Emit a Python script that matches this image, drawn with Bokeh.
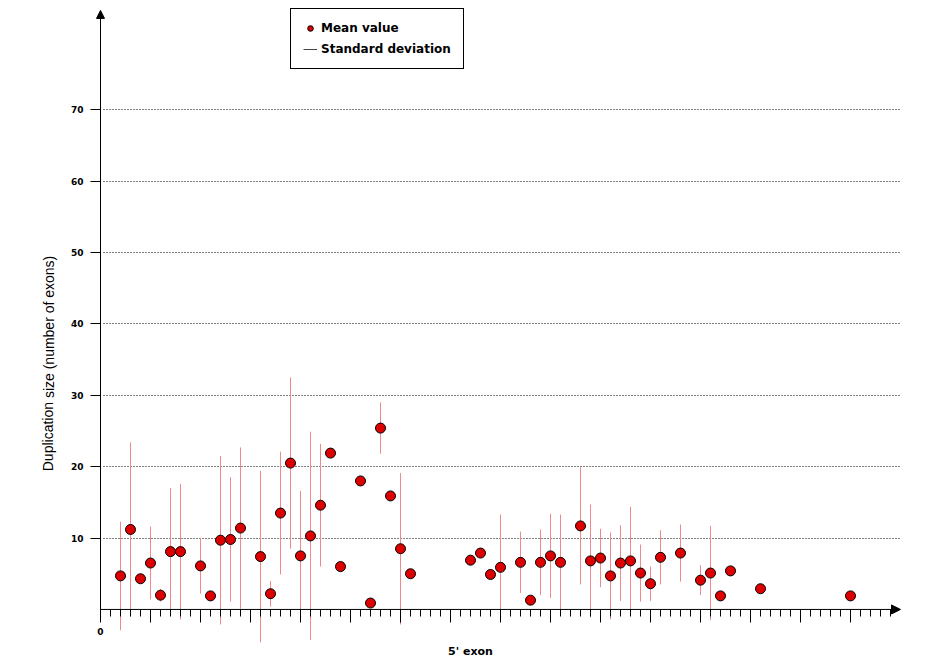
import pandas as pd
from bokeh.plotting import figure
from bokeh.models import (ColumnDataSource, Range1d, FixedTicker, Arrow, NormalHead,
                          Legend, LegendItem)
from bokeh.core.properties import value
from bokeh.embed import file_html
from bokeh.resources import INLINE

# ---- data ----
exon = [2, 3, 4, 5, 6, 7, 8, 10, 11, 12, 13, 14, 16, 17, 18, 19, 20, 21, 22, 23, 24,
        26, 27, 28, 29, 30, 31, 37, 38, 39, 40, 42, 43, 44, 45, 46, 48, 49, 50, 51,
        52, 53, 54, 55, 56, 58, 60, 61, 62, 63, 66, 75]
mean_size = [4.7, 11.2, 4.3, 6.5, 2.0, 8.1, 8.1, 6.1, 1.9, 9.7, 9.8, 11.4, 7.4, 2.2,
             13.5, 20.5, 7.5, 10.3, 14.6, 21.9, 6.0, 18.0, 0.9, 25.4, 15.9, 8.5, 5.0,
             6.9, 7.9, 4.9, 5.9, 6.6, 1.3, 6.6, 7.5, 6.6, 11.7, 6.8, 7.2, 4.7, 6.5,
             6.8, 5.1, 3.6, 7.3, 7.9, 4.1, 5.1, 1.9, 5.4, 2.9, 1.9]
std_dev = [7.6, 12.2, 0, 5.1, 0.9, 8.9, 9.5, 3.9, 0, 11.8, 8.7, 11.3, 12.0, 1.8,
           8.6, 12.0, 9.1, 14.6, 8.6, 0, 0, 0, 0, 3.6, 0, 10.6, 0,
           0, 0, 0, 7.4, 4.3, 0, 4.6, 5.9, 6.7, 8.2, 7.9, 4.1, 6.1, 5.3,
           7.6, 4.0, 2.4, 3.8, 4.0, 2.1, 6.6, 0, 0.6, 0, 0]

y_ticks = [10, 20, 30, 40, 50, 60, 70]
x_major_ticks = list(range(0, 80, 5))
x_minor_ticks = list(range(0, 80))
x_tick_labels = {t: ("0" if t == 0 else "") for t in x_major_ticks}
x_axis_end = 80
y_axis_end = 83.9

y_title = "Duplication size (number of exons)"
x_title = "5' exon"

df = pd.DataFrame({"x": exon, "mean": mean_size, "sd": std_dev})
df["lo"] = df["mean"] - df["sd"]
df["hi"] = df["mean"] + df["sd"]
pts = ColumnDataSource(df)
errs = ColumnDataSource(df[df["sd"] > 0])

BOLD = "DejaVu Sans"

p = figure(width=940, height=662, output_backend="svg", toolbar_location=None,
           x_range=Range1d(-10, 84), y_range=Range1d(-7.43, 85.29),
           min_border=0, title=None)
p.outline_line_color = None
p.background_fill_color = "white"
p.border_fill_color = "white"

# axes placed at the origin
xa = p.xaxis[0]
xa.fixed_location = 0
xa.ticker = FixedTicker(ticks=x_major_ticks, minor_ticks=x_minor_ticks)
xa.major_label_overrides = x_tick_labels
xa.axis_line_color = None
xa.major_tick_in = 0
xa.major_tick_out = 13
xa.minor_tick_in = 0
xa.minor_tick_out = 7
xa.major_tick_line_color = "black"
xa.minor_tick_line_color = "black"
xa.major_label_standoff = 6
xa.major_label_text_font = BOLD
xa.major_label_text_font_style = "bold"
xa.major_label_text_font_size = "9px"
xa.major_label_text_color = "black"

ya = p.yaxis[0]
ya.fixed_location = 0
ya.ticker = FixedTicker(ticks=y_ticks, minor_ticks=[])
ya.axis_line_color = None
ya.major_tick_in = 0
ya.major_tick_out = 10
ya.minor_tick_out = 0
ya.major_tick_line_color = "black"
ya.major_label_standoff = 7
ya.major_label_text_font = BOLD
ya.major_label_text_font_style = "bold"
ya.major_label_text_font_size = "9px"
ya.major_label_text_color = "black"

p.xgrid.visible = False
p.ygrid.ticker = FixedTicker(ticks=y_ticks)
p.ygrid.grid_line_color = "black"
p.ygrid.grid_line_dash = "1 2"
p.ygrid.grid_line_width = 1
p.ygrid.cross_bounds = (0.3, x_axis_end)

# axis lines with arrow heads
p.add_layout(Arrow(x_start=0, y_start=0, x_end=x_axis_end, y_end=0, line_color="black",
                   line_width=1, end=NormalHead(size=9, fill_color="black", line_color="black")))
p.add_layout(Arrow(x_start=0, y_start=0, x_end=0, y_end=y_axis_end, line_color="black",
                   line_width=1, end=NormalHead(size=8, fill_color="black", line_color="black")))

# standard deviation bars and mean points
sd_r = p.segment(x0="x", y0="lo", x1="x", y1="hi", source=errs,
                 line_color="#f08a8a", line_width=1)
sd_leg = p.segment(x0="x", y0="lo", x1="x", y1="hi", source=errs,
                   line_color="#444444", line_width=1, visible=False)
mean_r = p.scatter(x="x", y="mean", source=pts, size=10, fill_color="#dd0000",
                   line_color="black", line_width=1)

# axis titles
p.text(x=[-5.2], y=[34.45], text=[y_title], angle=1.5707963, text_align="center",
       text_baseline="middle", text_font=value("Liberation Sans"),
       text_font_size="14px", text_color="black")
p.text(x=[37], y=[-5.9], text=[x_title], text_align="center",
       text_baseline="middle", text_font=value(BOLD), text_font_style="bold",
       text_font_size="11px", text_color="black")

legend = Legend(items=[LegendItem(label="Mean value", renderers=[mean_r]),
                       LegendItem(label="Standard deviation", renderers=[sd_leg])],
                location=(290, 593), orientation="vertical",
                border_line_color="black", border_line_width=1, border_line_alpha=1,
                background_fill_color="white", background_fill_alpha=1,
                padding=12, spacing=7, margin=0, glyph_width=14, glyph_height=14,
                label_standoff=4, label_height=14,
                label_text_font=BOLD, label_text_font_style="bold",
                label_text_font_size="12px", label_text_color="black")
p.add_layout(legend)

open("out.html", "w").write(file_html(p, INLINE))
